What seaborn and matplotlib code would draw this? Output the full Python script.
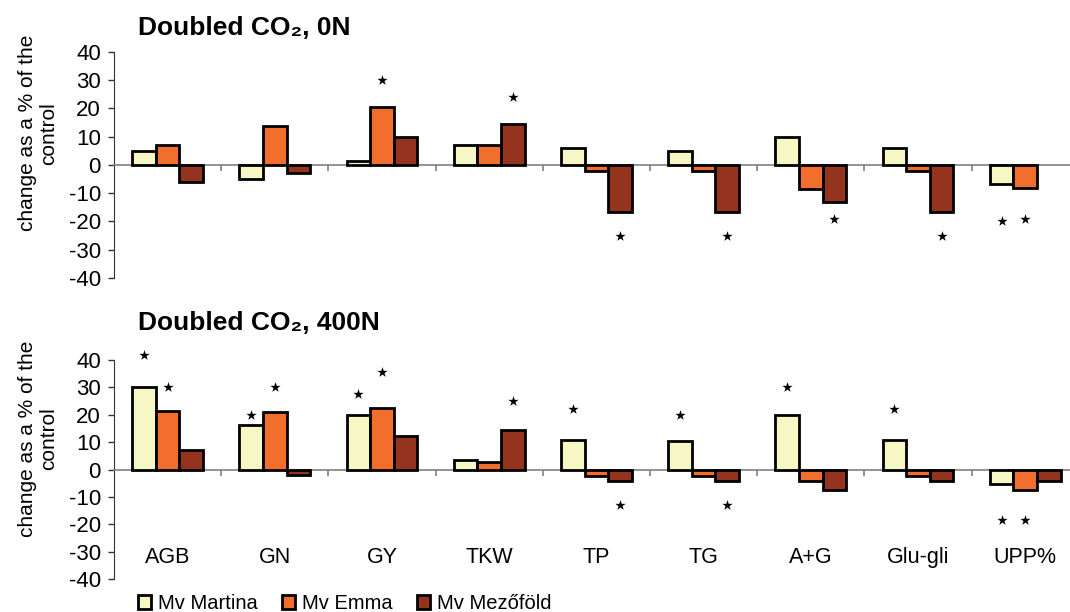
import numpy as np
import pandas as pd
import matplotlib
matplotlib.use('Agg')
import matplotlib.pyplot as plt
import seaborn as sns
from matplotlib.patches import Patch

# traits and cultivars
traits = ['AGB', 'GN', 'GY', 'TKW', 'TP', 'TG', 'A+G', 'Glu-gli', 'UPP%']
cultivars = ['Mv Martina', 'Mv Emma', 'Mv Mezőföld']
colors = ['#F7F7C6', '#F26E2D', '#94341F']

# change as a % of the control, doubled CO2, 0N
martina_0n = [5, -5, 1.5, 7, 5.8, 4.8, 9.9, 5.8, -6.7]
emma_0n = [7, 13.8, 20.5, 7, -2.2, -2.2, -8.7, -2.2, -8.1]
mezo_0n = [-6, -3, 9.8, 14.6, -16.7, -16.7, -13, -16.7, np.nan]

# doubled CO2, 400N
martina_400n = [30, 16.3, 19.9, 3.4, 10.8, 10.4, 19.9, 10.8, -5.3]
emma_400n = [21.4, 21, 22.4, 2.9, -2.3, -2.3, -4, -2.3, -7.3]
mezo_400n = [7, -2, 12.4, 14.5, -4.1, -4, -7.5, -4, -4]

# significance stars (trait, cultivar, height)
stars_0n_trait = ['GY', 'TKW', 'TP', 'TG', 'A+G', 'Glu-gli', 'UPP%', 'UPP%']
stars_0n_cult = ['Mv Emma', 'Mv Mezőföld', 'Mv Mezőföld', 'Mv Mezőföld',
                 'Mv Mezőföld', 'Mv Mezőföld', 'Mv Martina', 'Mv Emma']
stars_0n_y = [30, 24, -25, -25, -19, -25, -20, -19]

stars_400n_trait = ['AGB', 'AGB', 'GN', 'GN', 'GY', 'GY', 'TKW', 'TP', 'TP',
                    'TG', 'TG', 'A+G', 'Glu-gli', 'UPP%', 'UPP%']
stars_400n_cult = ['Mv Martina', 'Mv Emma', 'Mv Martina', 'Mv Emma',
                   'Mv Martina', 'Mv Emma', 'Mv Mezőföld', 'Mv Martina',
                   'Mv Mezőföld', 'Mv Martina', 'Mv Mezőföld', 'Mv Martina',
                   'Mv Martina', 'Mv Martina', 'Mv Emma']
stars_400n_y = [42, 30, 20, 30, 27.5, 35.5, 25, 22, -13, 20, -13, 30, 22,
                -18.5, -18.5]


def long_table(m, e, z):
    rows = []
    for vals, c in zip([m, e, z], cultivars):
        for t, v in zip(traits, vals):
            rows.append({'trait': t, 'cultivar': c, 'value': v})
    return pd.DataFrame(rows)


sns.set_style('white')
plt.rcParams['font.family'] = ['Liberation Sans', 'DejaVu Sans']
plt.rcParams['axes.unicode_minus'] = False
plt.rcParams['text.color'] = 'black'
plt.rcParams['axes.labelcolor'] = 'black'
plt.rcParams['ytick.color'] = 'black'

fig = plt.figure(figsize=(10.7, 6.12), dpi=100)
ax_top = fig.add_axes([0.1065, 0.5458, 0.8935, 0.3698])
ax_bot = fig.add_axes([0.1065, 0.0534, 0.8935, 0.3583])

group_width = 0.66
bar_w = group_width / len(cultivars)

panels = [
    (ax_top, long_table(martina_0n, emma_0n, mezo_0n),
     stars_0n_trait, stars_0n_cult, stars_0n_y, 'Doubled CO₂, 0N', 0.954),
    (ax_bot, long_table(martina_400n, emma_400n, mezo_400n),
     stars_400n_trait, stars_400n_cult, stars_400n_y, 'Doubled CO₂, 400N', 0.472),
]

for ax, df, s_t, s_c, s_y, title, ty in panels:
    sns.barplot(data=df, x='trait', y='value', hue='cultivar', order=traits,
                hue_order=cultivars, palette=colors, saturation=1,
                edgecolor='black', linewidth=2, width=group_width,
                errorbar=None, legend=False, ax=ax, zorder=3)
    ax.set_xlim(-0.5, 8.418)
    ax.set_ylim(-40, 40)
    ax.set_yticks(range(-40, 41, 10))
    ax.set_xlabel('')
    ax.set_ylabel('change as a % of the\ncontrol', fontsize=15, linespacing=1.15)
    ax.yaxis.set_label_coords(-0.058, 0.64)

    ax.spines['top'].set_visible(False)
    ax.spines['right'].set_visible(False)
    ax.spines['left'].set_color('#333333')
    ax.spines['bottom'].set_position(('data', 0))
    ax.spines['bottom'].set_color('#808080')
    ax.spines['bottom'].set_linewidth(1.2)

    ax.tick_params(axis='y', direction='out', length=4.5, width=1,
                   color='#333333', labelcolor='black', labelsize=16, pad=5,
                   left=True)
    ax.tick_params(axis='x', which='major', length=0, labelbottom=False)
    ax.set_xticks(np.arange(0.5, len(traits) - 1, 1), minor=True)
    ax.tick_params(axis='x', which='minor', direction='out', length=4,
                   width=1.2, color='#808080', bottom=True)

    # stars above/below significant bars
    sx = [traits.index(t) + (cultivars.index(c) - 1) * bar_w
          for t, c in zip(s_t, s_c)]
    ax.scatter(sx, s_y, marker='*', s=60, color='black', zorder=4,
               linewidths=0, clip_on=False)

    fig.text(0.129, ty, title, fontsize=19, fontweight='bold',
             va='center', ha='left')

# trait labels inside the lower panel
for i, t in enumerate(traits):
    ax_bot.text(i, -32, t, ha='center', va='center', fontsize=15.5)

handles = [Patch(facecolor=c, edgecolor='black', linewidth=2) for c in colors]
fig.legend(handles, cultivars, loc='center left', bbox_to_anchor=(0.129, 0.014),
           ncol=3, frameon=False, fontsize=14.5, handlelength=0.65,
           handleheight=0.65, handletextpad=0.35, columnspacing=1.2,
           borderpad=0, borderaxespad=0)

fig.savefig('out.png', dpi=100)
